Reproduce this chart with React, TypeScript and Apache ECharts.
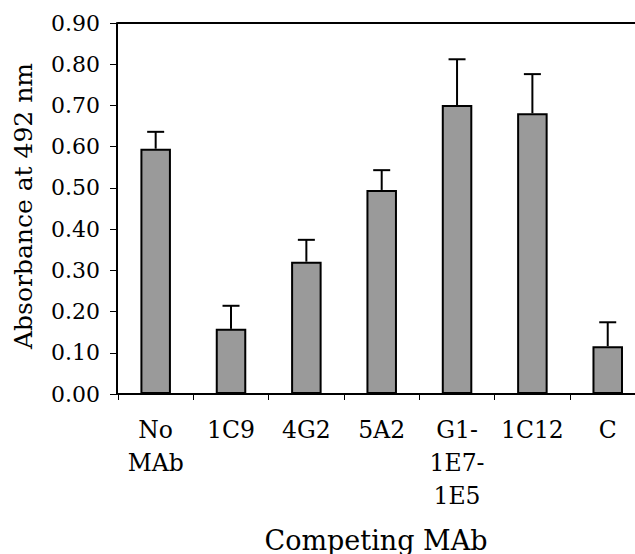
import React, { useEffect, useRef } from "react";
import * as echarts from "echarts";

const categories = ["No\nMAb", "1C9", "4G2", "5A2", "G1-\n1E7-\n1E5", "1C12", "C"];
const absorbance = [0.595, 0.158, 0.321, 0.495, 0.701, 0.681, 0.116];
const errorTop = [0.636, 0.214, 0.374, 0.543, 0.812, 0.776, 0.174];
const yTitle = "Absorbance at 492 nm";
const xTitle = "Competing MAb";

const FONT = "DejaVu Serif";

export default function App() {
  const ref = useRef<HTMLDivElement>(null);
  useEffect(() => {
    if (!ref.current) return;
    const chart = echarts.init(ref.current, null, { renderer: "svg" });
    chart.setOption({
      animation: false,
      backgroundColor: "#ffffff",
      grid: { left: 118, top: 23, width: 527.4, bottom: 160, containLabel: false },
      xAxis: [
        {
          type: "category",
          data: categories,
          position: "bottom",
          axisLine: { show: true, lineStyle: { color: "#000", width: 2 } },
          axisTick: { show: true, length: 6, lineStyle: { color: "#000", width: 1 } },
          axisLabel: {
            color: "#000",
            fontFamily: FONT,
            fontSize: 23.5,
            lineHeight: 33,
            margin: 19,
            interval: 0,
          },
        },
        {
          type: "category",
          data: categories,
          position: "top",
          axisLine: { show: true, lineStyle: { color: "#000", width: 2 } },
          axisTick: { show: false },
          axisLabel: { show: false },
        },
      ],
      yAxis: {
        type: "value",
        min: 0,
        max: 0.9,
        interval: 0.1,
        offset: 1,
        axisLine: { show: true, lineStyle: { color: "#000", width: 2 } },
        axisTick: { show: true, length: 7, lineStyle: { color: "#000", width: 1 } },
        splitLine: { show: false },
        axisLabel: {
          color: "#000",
          fontFamily: FONT,
          fontSize: 22,
          margin: 17,
          formatter: (v: number) => v.toFixed(2),
        },
      },
      series: [
        {
          type: "bar",
          data: absorbance,
          barWidth: "40.5%",
          itemStyle: { color: "#9a9a9a", borderColor: "#000", borderWidth: 2 },
          z: 2,
        },
        {
          type: "custom",
          data: absorbance.map((v, i) => [i, v, errorTop[i]]),
          z: 3,
          renderItem: (params: any, api: any) => {
            const i = api.value(0);
            const base = api.coord([i, api.value(1)]);
            const top = api.coord([i, api.value(2)]);
            const half = 8.5;
            return {
              type: "group",
              children: [
                {
                  type: "line",
                  shape: { x1: base[0], y1: base[1], x2: top[0], y2: top[1] },
                  style: { stroke: "#000", lineWidth: 2 },
                },
                {
                  type: "line",
                  shape: { x1: top[0] - half, y1: top[1], x2: top[0] + half, y2: top[1] },
                  style: { stroke: "#000", lineWidth: 2 },
                },
              ],
            };
          },
        },
      ],
      graphic: [
        {
          type: "text",
          x: 23,
          y: 206,
          rotation: Math.PI / 2,
          style: {
            text: yTitle,
            fontFamily: FONT,
            fontSize: 25,
            fill: "#000",
            align: "center",
            verticalAlign: "middle",
          },
        },
        {
          type: "text",
          x: 376,
          y: 540,
          style: {
            text: xTitle,
            fontFamily: FONT,
            fontSize: 27,
            fill: "#000",
            align: "center",
            verticalAlign: "middle",
          },
        },
      ],
    });
    return () => chart.dispose();
  }, []);
  return (
    <div
      style={{
        position: "fixed",
        left: 0,
        top: 0,
        width: 635,
        height: 554,
        overflow: "hidden",
        background: "#fff",
      }}
    >
      <div ref={ref} style={{ width: 660, height: 554 }} />
    </div>
  );
}
